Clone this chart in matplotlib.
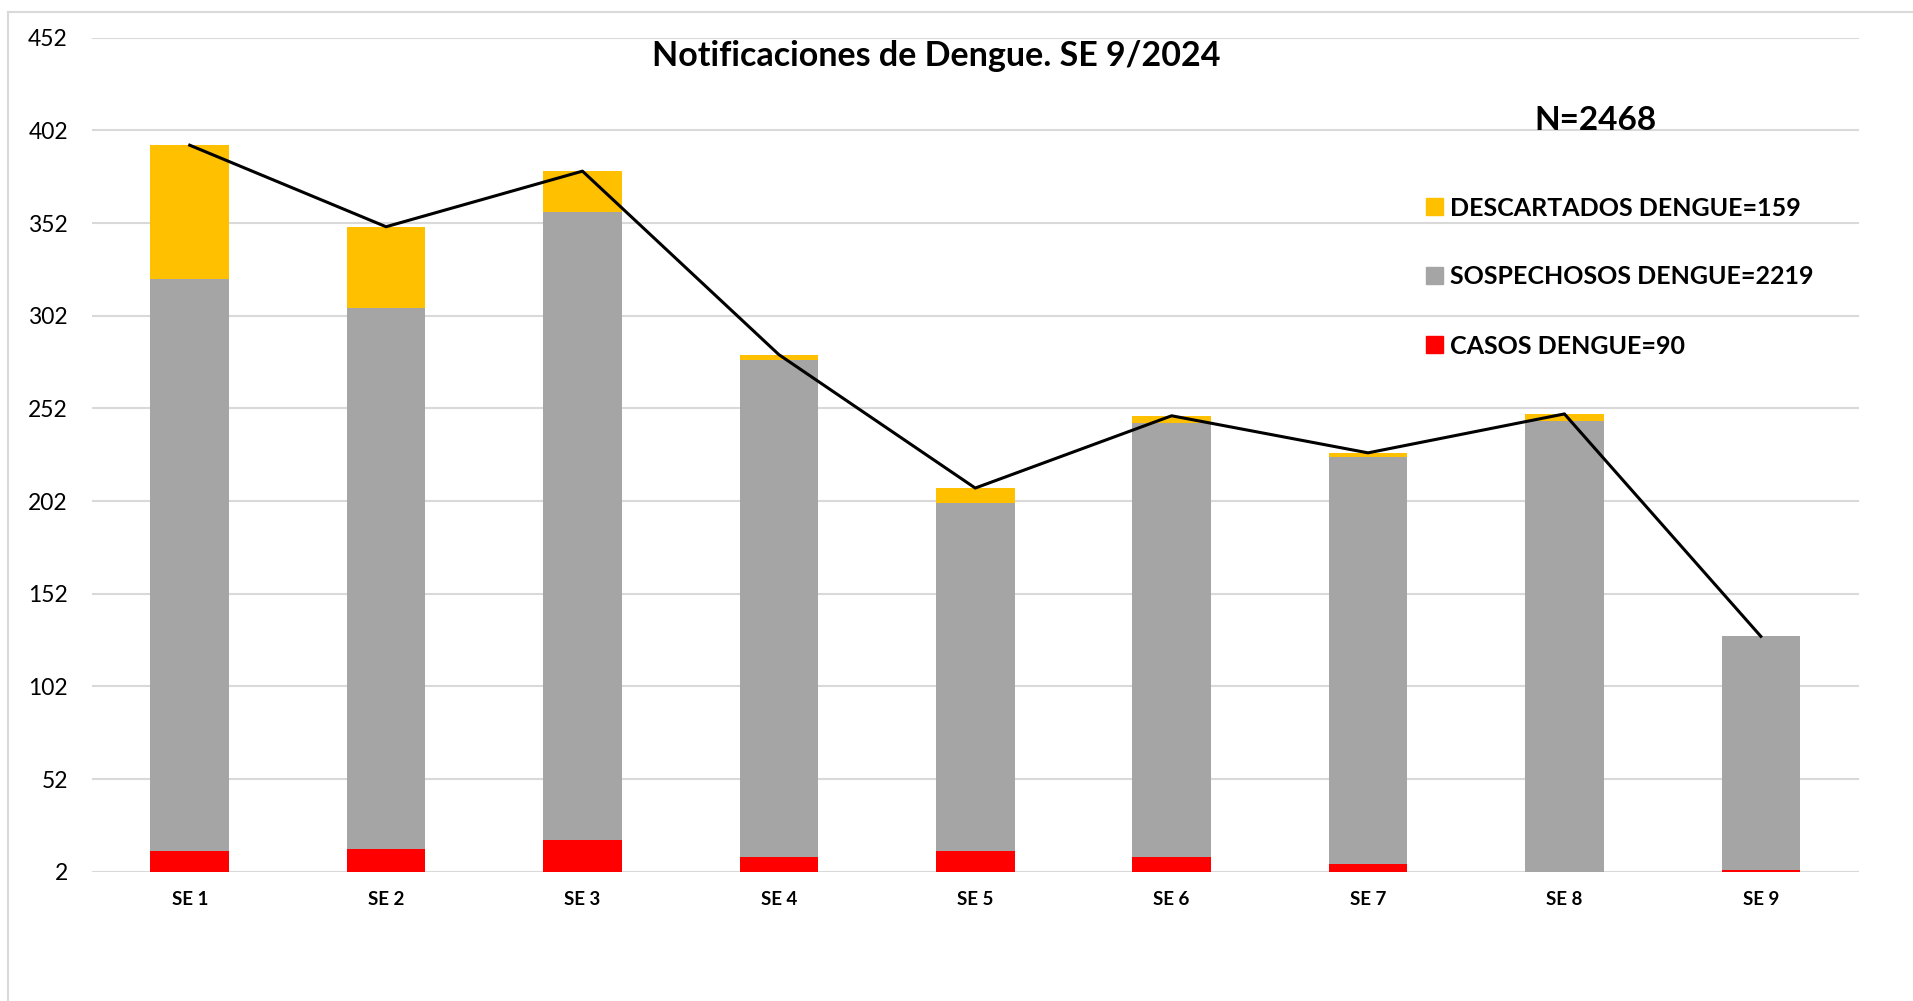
import numpy as np
import matplotlib
matplotlib.use("Agg")
import matplotlib.pyplot as plt
from matplotlib.lines import Line2D
from matplotlib.patches import Patch

# --- DATA ---
semanas = ['SE 1', 'SE 2', 'SE 3', 'SE 4', 'SE 5', 'SE 6', 'SE 7', 'SE 8', 'SE 9']
casos = [13, 14, 19, 10, 13, 10, 6, 2, 3]
sospechosos = [309, 292, 339, 268, 188, 234, 220, 243, 126]
descartados = [72, 44, 22, 3, 8, 4, 2, 4, 0]
y_ticks = list(range(2, 453, 50))

titulo = "Notificaciones de Dengue. SE 9/2024"
etiquetas = ["DESCARTADOS DENGUE=159", "SOSPECHOSOS DENGUE=2219", "CASOS DENGUE=90"]

# colours (Excel defaults)
AMARILLO = "#FFC000"
GRIS = "#A5A5A5"
ROJO = "#FF0000"
GRID = "#D9D9D9"

plt.rcParams['font.family'] = ['Lato', 'DejaVu Sans']

W, H = 1913, 1001
fig = plt.figure(figsize=(W / 100, H / 100), dpi=100)
ax = fig.add_axes([91.5 / W, 1 - 871.7 / H, (1859 - 91.5) / W, (871.7 - 37.7) / H])

x = np.arange(len(semanas))
casos_a = np.array(casos)
sosp_a = np.array(sospechosos)
desc_a = np.array(descartados)
total = casos_a + sosp_a + desc_a

bw = 0.40
ax.bar(x, casos_a, bw, color=ROJO, zorder=2)
ax.bar(x, sosp_a, bw, bottom=casos_a, color=GRIS, zorder=2)
ax.bar(x, desc_a, bw, bottom=casos_a + sosp_a, color=AMARILLO, zorder=2)
ax.plot(x, total, color="black", linewidth=2.2, zorder=3)

ax.set_xlim(-0.5, len(semanas) - 0.5)
ax.set_ylim(2, 452)
ax.set_yticks(y_ticks)
ax.set_xticks(x)
ax.set_xticklabels(semanas, fontsize=13.5, fontweight='bold')
ax.tick_params(axis='y', length=0, pad=17, labelsize=16.5)
ax.tick_params(axis='x', length=0, pad=14)
ax.grid(axis='y', color=GRID, linewidth=1.5, zorder=0)
for s in ax.spines.values():
    s.set_visible(False)

# title and N
fig.text(936 / W, 1 - 56.5 / H, titulo, ha='center', va='center',
         fontsize=24.5, fontweight='bold')
fig.text(1595 / W, 1 - 120 / H, "N=2468", ha='center', va='center',
         fontsize=24, fontweight='bold')

# legend
handles = [Patch(color=AMARILLO), Patch(color=GRIS), Patch(color=ROJO)]
fig.legend(handles, etiquetas, loc='upper left',
           bbox_to_anchor=(1426 / W, 1 - 196.5 / H), frameon=False,
           borderpad=0, borderaxespad=0, handlelength=0.68,
           handleheight=0.68, handletextpad=0.3, labelspacing=1.84,
           prop={'size': 18, 'weight': 'bold'})

# outer chart border (left and top visible)
fig.add_artist(Line2D([8 / W, 8 / W], [0, 1 - 12 / H], color=GRID, linewidth=1.5))
fig.add_artist(Line2D([8 / W, 1], [1 - 12 / H, 1 - 12 / H], color=GRID, linewidth=1.5))

fig.savefig("out.png", dpi=100)
